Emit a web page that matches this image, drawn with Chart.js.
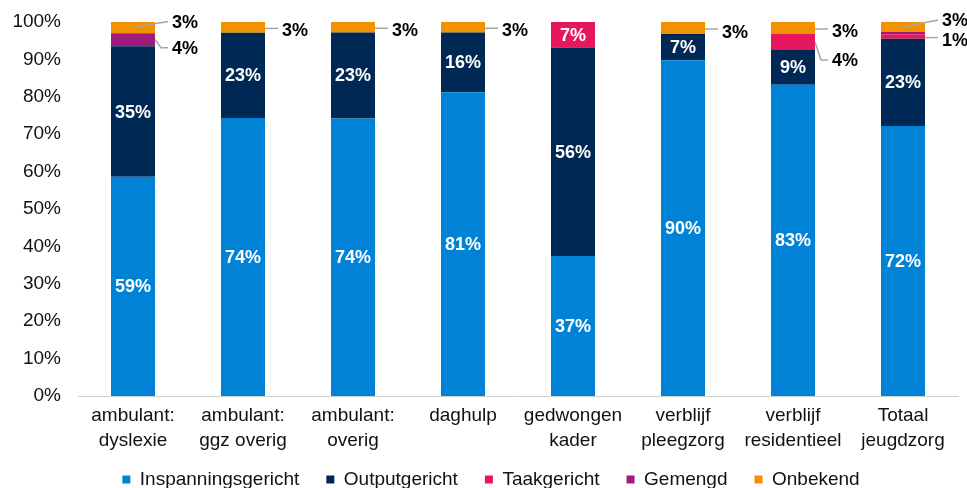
<!DOCTYPE html>
<html>
<head>
<meta charset="utf-8">
<script src="https://cdn.jsdelivr.net/npm/chart.js@4.4.1/dist/chart.umd.min.js"></script>
<style>
html,body{margin:0;padding:0;background:#fff;}
#wrap{width:967px;height:488px;position:relative;}
</style>
</head>
<body>
<div id="wrap"><canvas id="c" width="967" height="488"></canvas></div>
<script>
const categories = [
  ["ambulant:", "dyslexie"],
  ["ambulant:", "ggz overig"],
  ["ambulant:", "overig"],
  ["daghulp"],
  ["gedwongen", "kader"],
  ["verblijf", "pleegzorg"],
  ["verblijf", "residentieel"],
  ["Totaal", "jeugdzorg"]
];
const seriesNames = ["Inspanningsgericht", "Outputgericht", "Taakgericht", "Gemengd", "Onbekend"];
const inspanningsgericht = [58.6, 74.3, 74.2, 81.2, 37.4, 89.8, 83.2, 72.2];
const outputgericht      = [34.9, 22.8, 23.0, 16.0, 55.8,  7.0,  9.3, 23.3];
const taakgericht        = [ 0.0,  0.0,  0.0,  0.0,  6.8,  0.0,  4.3,  1.2];
const gemengd            = [ 3.5,  0.0,  0.0,  0.0,  0.0,  0.0,  0.0,  0.6];
const onbekend           = [ 3.0,  2.9,  2.8,  2.8,  0.0,  3.2,  3.2,  2.7];
const yTicks = [0, 10, 20, 30, 40, 50, 60, 70, 80, 90, 100];

const colors = ["#0083D7", "#002855", "#E6175C", "#A0197D", "#F39200"];
const seriesValues = [inspanningsgericht, outputgericht, taakgericht, gemengd, onbekend];

// vertical nudges (px) for labels placed outside the bars: "dataset-index"
const outsideNudge = {
  "4-0": -6, "3-0": 8,
  "4-1": 3, "4-2": 3, "4-3": 3, "4-5": 4, "4-6": 3,
  "2-6": 18,
  "4-7": -7, "2-7": 3
};

const FONT = "'Liberation Sans', Arial, sans-serif";
const LEGEND_PAD = 27;

const labelPlugin = {
  id: "segLabels",
  afterDatasetsDraw(chart) {
    const ctx = chart.ctx;
    ctx.save();
    ctx.font = "bold 18px " + FONT;
    ctx.textBaseline = "middle";
    chart.data.datasets.forEach((ds, di) => {
      const meta = chart.getDatasetMeta(di);
      meta.data.forEach((el, i) => {
        const v = ds.data[i];
        if (!v || v < 1) return;
        const txt = Math.round(v) + "%";
        const top = Math.min(el.y, el.base), bot = Math.max(el.y, el.base);
        const cy = (top + bot) / 2;
        if (v >= 6) {
          ctx.fillStyle = "#ffffff";
          ctx.textAlign = "center";
          ctx.fillText(txt, el.x, cy + 1);
        } else {
          const dy = outsideNudge[di + "-" + i] || 0;
          const right = el.x + el.width / 2;
          const lx = right + 17;
          const ly = cy + dy;
          ctx.strokeStyle = "#a6a6a6";
          ctx.lineWidth = 1.5;
          ctx.beginPath();
          if (dy < 0) {
            ctx.moveTo(el.x, cy);
            ctx.lineTo(lx - 4, ly);
          } else if (dy > 6) {
            ctx.moveTo(right, cy);
            ctx.lineTo(right + 6, ly);
            ctx.lineTo(lx - 4, ly);
          } else {
            ctx.moveTo(right, cy + 1);
            ctx.lineTo(lx - 4, cy + 1);
          }
          ctx.stroke();
          ctx.fillStyle = "#000000";
          ctx.textAlign = "left";
          ctx.fillText(txt, lx, ly + 1);
        }
      });
    });
    ctx.restore();
  }
};

// keep the legend band compact while using wide spacing between items, and place it
const legendPlace = {
  id: "legendPlace",
  beforeLayout(chart) {
    const lg = chart.legend;
    if (lg && !lg._patched) {
      const orig = lg.fit;
      lg.fit = function () { orig.call(this); this.height = 30; };
      lg._patched = true;
    }
  },
  afterLayout(chart) {
    const lg = chart.legend;
    if (!lg) return;
    const dx = 12;
    const targetTop = 480 - LEGEND_PAD - 10;
    lg.left += dx; lg.right += dx;
    lg.top = targetTop; lg.bottom = 488; lg.height = 488 - targetTop;
  }
};

new Chart(document.getElementById("c"), {
  type: "bar",
  data: {
    labels: categories,
    datasets: seriesNames.map((n, k) => ({
      label: n,
      data: seriesValues[k],
      backgroundColor: colors[k],
      borderWidth: 0,
      barPercentage: 0.4,
      categoryPercentage: 1.0
    }))
  },
  options: {
    responsive: false,
    animation: false,
    layout: { padding: { left: 0, right: 9, top: 22, bottom: 0 } },
    plugins: {
      tooltip: { enabled: false },
      legend: {
        position: "bottom",
        labels: {
          boxWidth: 8, boxHeight: 8,
          padding: LEGEND_PAD,
          color: "#111111",
          font: { family: FONT, size: 19 }
        }
      }
    },
    scales: {
      x: {
        stacked: true,
        grid: { display: false, drawTicks: false },
        border: { display: true, color: "#d0d0d0", width: 1 },
        ticks: {
          color: "#111111",
          padding: 7,
          maxRotation: 0,
          autoSkip: false,
          font: { family: FONT, size: 19, lineHeight: 1.32 }
        },
        afterFit(s) { s.height = 62; s.paddingLeft = 0; s.paddingRight = 0; }
      },
      y: {
        stacked: true,
        min: 0, max: 100,
        afterBuildTicks(s) { s.ticks = yTicks.map(v => ({ value: v })); },
        grid: { display: false, drawTicks: false },
        border: { display: false },
        ticks: {
          color: "#111111",
          padding: 17,
          font: { family: FONT, size: 19 },
          callback: v => v + "%"
        },
        afterFit(s) { s.width = 78; s.paddingTop = 0; s.paddingBottom = 0; }
      }
    }
  },
  plugins: [labelPlugin, legendPlace]
});
</script>
</body>
</html>
